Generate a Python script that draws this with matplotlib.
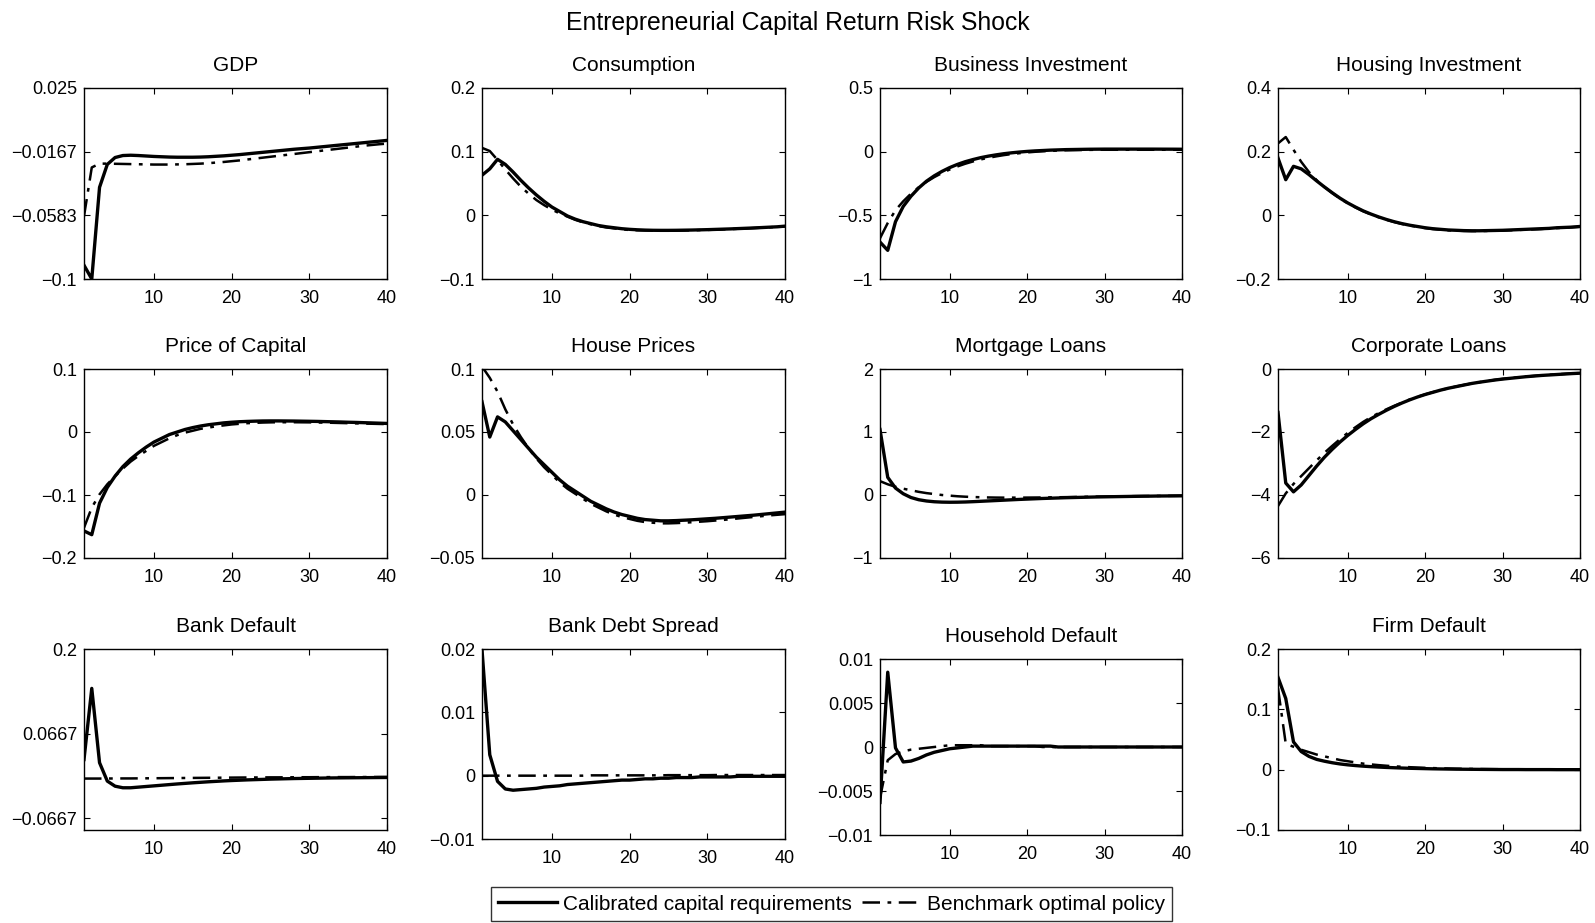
import numpy as np
import matplotlib.pyplot as plt

plt.rcParams['font.family'] = ['Liberation Sans', 'DejaVu Sans']
plt.rcParams['xtick.direction'] = 'in'
plt.rcParams['ytick.direction'] = 'in'

periods = np.arange(1, 41)

# calibrated capital requirements (solid) / benchmark optimal policy (dash-dot)
gdp_cal = [-0.091, -0.100, -0.040, -0.025, -0.0205, -0.0192, -0.0190, -0.0192, -0.0195, -0.0198,
           -0.0200, -0.0202, -0.0203, -0.0203, -0.0203, -0.0202, -0.0200, -0.0197, -0.0194, -0.0190,
           -0.0186, -0.0181, -0.0176, -0.0171, -0.0166, -0.0161, -0.0156, -0.0151, -0.0147, -0.0143,
           -0.0138, -0.0133, -0.0128, -0.0123, -0.0118, -0.0113, -0.0108, -0.0103, -0.0098, -0.0093]
gdp_opt = [-0.059, -0.027, -0.0245, -0.0245, -0.0246, -0.0247, -0.0248, -0.0249, -0.0250, -0.0251,
           -0.0251, -0.0251, -0.0250, -0.0249, -0.0247, -0.0245, -0.0242, -0.0238, -0.0234, -0.0229,
           -0.0224, -0.0218, -0.0212, -0.0206, -0.0200, -0.0194, -0.0188, -0.0182, -0.0176, -0.0170,
           -0.0164, -0.0158, -0.0152, -0.0146, -0.0140, -0.0134, -0.0128, -0.0123, -0.0118, -0.0114]

cons_cal = [0.063, 0.073, 0.088, 0.080, 0.068, 0.055, 0.043, 0.032, 0.022, 0.013,
            0.006, -0.001, -0.006, -0.010, -0.013, -0.016, -0.018, -0.0195, -0.021, -0.022,
            -0.0227, -0.0232, -0.0235, -0.0236, -0.0236, -0.0235, -0.0233, -0.0231, -0.0228, -0.0225,
            -0.0221, -0.0217, -0.0213, -0.0208, -0.0203, -0.0198, -0.0192, -0.0186, -0.0180, -0.0170]
cons_opt = [0.106, 0.101, 0.087, 0.072, 0.058, 0.045, 0.034, 0.024, 0.016, 0.009,
            0.003, -0.002, -0.007, -0.011, -0.014, -0.017, -0.019, -0.0205, -0.022, -0.023,
            -0.0235, -0.0238, -0.0240, -0.0241, -0.0241, -0.0240, -0.0238, -0.0235, -0.0232, -0.0229,
            -0.0225, -0.0221, -0.0216, -0.0211, -0.0206, -0.0200, -0.0194, -0.0188, -0.0181, -0.0173]

binv_cal = [-0.71, -0.775, -0.55, -0.43, -0.35, -0.285, -0.232, -0.19, -0.155, -0.125,
            -0.10, -0.079, -0.062, -0.047, -0.035, -0.025, -0.016, -0.009, -0.003, 0.002,
            0.006, 0.009, 0.012, 0.014, 0.016, 0.017, 0.018, 0.019, 0.0195, 0.020,
            0.020, 0.020, 0.020, 0.020, 0.020, 0.020, 0.0198, 0.0196, 0.0194, 0.019]
binv_opt = [-0.68, -0.56, -0.46, -0.39, -0.33, -0.28, -0.237, -0.20, -0.168, -0.14,
            -0.116, -0.095, -0.077, -0.061, -0.048, -0.037, -0.027, -0.019, -0.012, -0.006,
            -0.001, 0.003, 0.006, 0.009, 0.011, 0.012, 0.013, 0.014, 0.015, 0.015,
            0.015, 0.015, 0.015, 0.015, 0.015, 0.015, 0.015, 0.015, 0.015, 0.015]

hinv_cal = [0.18, 0.112, 0.154, 0.146, 0.128, 0.108, 0.089, 0.071, 0.054, 0.039,
            0.026, 0.014, 0.004, -0.005, -0.013, -0.020, -0.026, -0.031, -0.035, -0.039,
            -0.042, -0.044, -0.046, -0.047, -0.048, -0.0485, -0.0485, -0.048, -0.0475, -0.047,
            -0.046, -0.045, -0.044, -0.043, -0.042, -0.041, -0.039, -0.038, -0.037, -0.035]
hinv_opt = [0.226, 0.246, 0.206, 0.168, 0.136, 0.110, 0.089, 0.070, 0.053, 0.038,
            0.025, 0.013, 0.003, -0.006, -0.014, -0.021, -0.027, -0.032, -0.036, -0.040,
            -0.043, -0.045, -0.047, -0.048, -0.049, -0.0495, -0.0495, -0.049, -0.0485, -0.048,
            -0.047, -0.046, -0.045, -0.044, -0.043, -0.041, -0.040, -0.039, -0.037, -0.036]

pk_cal = [-0.157, -0.163, -0.113, -0.088, -0.070, -0.055, -0.043, -0.033, -0.024, -0.016,
          -0.010, -0.004, 0.000, 0.004, 0.007, 0.0095, 0.0115, 0.013, 0.0145, 0.0155,
          0.0163, 0.0168, 0.0172, 0.0175, 0.0176, 0.0176, 0.0175, 0.0174, 0.0172, 0.0170,
          0.0168, 0.0165, 0.0162, 0.0159, 0.0155, 0.0152, 0.0148, 0.0144, 0.0140, 0.0136]
pk_opt = [-0.152, -0.120, -0.099, -0.083, -0.070, -0.058, -0.047, -0.038, -0.030, -0.022,
          -0.016, -0.010, -0.005, -0.001, 0.002, 0.005, 0.007, 0.009, 0.0105, 0.012,
          0.013, 0.014, 0.0145, 0.015, 0.0153, 0.0155, 0.0155, 0.0155, 0.0154, 0.0153,
          0.0151, 0.0149, 0.0146, 0.0143, 0.0140, 0.0137, 0.0134, 0.0131, 0.0128, 0.0125]

hp_cal = [0.074, 0.046, 0.062, 0.058, 0.051, 0.044, 0.037, 0.030, 0.024, 0.018,
          0.012, 0.007, 0.003, -0.001, -0.005, -0.008, -0.011, -0.0135, -0.0155, -0.017,
          -0.0185, -0.0195, -0.020, -0.0205, -0.0205, -0.0203, -0.020, -0.0197, -0.0193, -0.0189,
          -0.0185, -0.018, -0.0175, -0.017, -0.0165, -0.016, -0.0154, -0.0148, -0.0142, -0.0136]
hp_opt = [0.102, 0.093, 0.082, 0.068, 0.056, 0.046, 0.037, 0.029, 0.022, 0.016,
          0.010, 0.005, 0.001, -0.003, -0.007, -0.010, -0.013, -0.0155, -0.0175, -0.019,
          -0.0205, -0.0215, -0.022, -0.0225, -0.0225, -0.0223, -0.022, -0.0216, -0.0212, -0.0208,
          -0.0203, -0.0198, -0.0192, -0.0186, -0.018, -0.0174, -0.0168, -0.0162, -0.0157, -0.0152]

mort_cal = [1.04, 0.28, 0.11, 0.02, -0.04, -0.075, -0.095, -0.107, -0.113, -0.115,
            -0.114, -0.111, -0.106, -0.100, -0.094, -0.088, -0.082, -0.076, -0.070, -0.065,
            -0.060, -0.055, -0.051, -0.047, -0.043, -0.040, -0.037, -0.034, -0.031, -0.029,
            -0.027, -0.025, -0.023, -0.021, -0.019, -0.018, -0.016, -0.015, -0.014, -0.013]
mort_opt = [0.22, 0.17, 0.13, 0.10, 0.075, 0.05, 0.03, 0.015, 0.0, -0.01,
            -0.02, -0.027, -0.032, -0.036, -0.039, -0.041, -0.042, -0.042, -0.042, -0.041,
            -0.040, -0.039, -0.037, -0.036, -0.034, -0.032, -0.030, -0.028, -0.026, -0.025,
            -0.023, -0.021, -0.020, -0.018, -0.017, -0.016, -0.015, -0.014, -0.013, -0.012]

corp_cal = [-1.38, -3.62, -3.90, -3.68, -3.38, -3.08, -2.80, -2.55, -2.32, -2.11,
            -1.92, -1.74, -1.58, -1.44, -1.31, -1.19, -1.08, -0.98, -0.89, -0.81,
            -0.74, -0.67, -0.61, -0.56, -0.51, -0.46, -0.42, -0.385, -0.35, -0.32,
            -0.295, -0.27, -0.245, -0.225, -0.205, -0.19, -0.175, -0.16, -0.145, -0.133]
corp_opt = [-4.35, -3.95, -3.65, -3.40, -3.15, -2.90, -2.66, -2.44, -2.23, -2.03,
            -1.85, -1.68, -1.53, -1.40, -1.28, -1.17, -1.07, -0.97, -0.885, -0.805,
            -0.735, -0.67, -0.61, -0.555, -0.505, -0.46, -0.42, -0.38, -0.345, -0.315,
            -0.29, -0.265, -0.24, -0.22, -0.20, -0.185, -0.17, -0.155, -0.14, -0.13]

bdef_cal = [0.026, 0.138, 0.021, -0.008, -0.016, -0.0185, -0.0185, -0.0175, -0.0165, -0.0155,
            -0.0145, -0.0135, -0.0125, -0.0116, -0.0107, -0.0099, -0.0091, -0.0084, -0.0077, -0.0071,
            -0.0066, -0.0061, -0.0057, -0.0053, -0.0049, -0.0046, -0.0043, -0.0040, -0.0038, -0.0036,
            -0.0034, -0.0032, -0.0030, -0.0029, -0.0028, -0.0027, -0.0026, -0.0025, -0.0024, -0.0023]
bdef_opt = [-0.0040, -0.0040, -0.0040, -0.0039, -0.0039, -0.0038, -0.0038, -0.0037, -0.0036, -0.0035,
            -0.0034, -0.0033, -0.0032, -0.0031, -0.0030, -0.0029, -0.0028, -0.0027, -0.0026, -0.0025,
            -0.0024, -0.0023, -0.0023, -0.0022, -0.0021, -0.0021, -0.0020, -0.0020, -0.0019, -0.0019,
            -0.0018, -0.0018, -0.0017, -0.0017, -0.0017, -0.0016, -0.0016, -0.0016, -0.0015, -0.0015]

spread_cal = [0.0199, 0.0033, -0.0009, -0.0021, -0.0023, -0.0022, -0.0021, -0.0020, -0.0018, -0.0017,
              -0.0016, -0.0014, -0.0013, -0.0012, -0.0011, -0.0010, -0.0009, -0.0008, -0.0007, -0.0007,
              -0.0006, -0.0005, -0.0005, -0.0004, -0.0004, -0.0003, -0.0003, -0.0003, -0.0002, -0.0002,
              -0.0002, -0.0002, -0.0002, -0.0001, -0.0001, -0.0001, -0.0001, -0.0001, -0.0001, -0.0001]
spread_opt = [0.0000, 0.0000, 0.0000, 0.0000, 0.0000, 0.0000, 0.0000, 0.0000, 0.0000, 0.0000,
              0.0000, 0.0000, 0.0000, 0.0000, 0.00005, 0.00005, 0.00005, 0.00005, 0.00005, 0.00005,
              0.00005, 0.00005, 0.00005, 0.00005, 0.00008, 0.00008, 0.00008, 0.00008, 0.00008, 0.00008,
              0.0001, 0.0001, 0.0001, 0.0001, 0.0001, 0.0001, 0.0001, 0.0001, 0.0001, 0.0001]

hdef_cal = [-0.0063, 0.0085, -0.0001, -0.0017, -0.0016, -0.0013, -0.0009, -0.0006, -0.0004, -0.0002,
            -0.0001, 0.0000, 0.0001, 0.0001, 0.0001, 0.0001, 0.0001, 0.0001, 0.0001, 0.0001,
            0.0001, 0.0001, 0.0001, 0.0000, 0.0000, 0.0000, 0.0000, 0.0000, 0.0000, 0.0000,
            0.0000, 0.0000, 0.0000, 0.0000, 0.0000, 0.0000, 0.0000, 0.0000, 0.0000, 0.0000]
hdef_opt = [-0.0058, -0.0015, -0.0008, -0.0005, -0.0003, -0.0002, -0.0001, 0.0000, 0.0001, 0.0002,
            0.0002, 0.0002, 0.0002, 0.0002, 0.0001, 0.0001, 0.0001, 0.0001, 0.0001, 0.0001,
            0.0001, 0.0000, 0.0000, 0.0000, 0.0000, 0.0000, 0.0000, 0.0000, 0.0000, 0.0000,
            0.0000, 0.0000, 0.0000, 0.0000, 0.0000, 0.0000, 0.0000, 0.0000, 0.0000, 0.0000]

fdef_cal = [0.153, 0.118, 0.046, 0.030, 0.022, 0.017, 0.014, 0.0115, 0.0095, 0.008,
            0.0068, 0.0058, 0.005, 0.0043, 0.0037, 0.0032, 0.0027, 0.0023, 0.002, 0.0017,
            0.0014, 0.0012, 0.001, 0.0008, 0.0007, 0.0006, 0.0005, 0.0004, 0.0003, 0.0002,
            0.0002, 0.0002, 0.0001, 0.0001, 0.0001, 0.0001, 0.0000, 0.0000, 0.0000, 0.0000]
fdef_opt = [0.135, 0.043, 0.038, 0.033, 0.029, 0.025, 0.022, 0.019, 0.016, 0.014,
            0.012, 0.010, 0.0087, 0.0075, 0.0065, 0.0056, 0.0048, 0.0041, 0.0035, 0.003,
            0.0026, 0.0022, 0.0019, 0.0016, 0.0014, 0.0012, 0.001, 0.0009, 0.0008, 0.0007,
            0.0006, 0.0005, 0.0005, 0.0004, 0.0004, 0.0003, 0.0003, 0.0002, 0.0002, 0.0002]

titles = ["GDP", "Consumption", "Business Investment", "Housing Investment",
          "Price of Capital", "House Prices", "Mortgage Loans", "Corporate Loans",
          "Bank Default", "Bank Debt Spread", "Household Default", "Firm Default"]
cal_series = [gdp_cal, cons_cal, binv_cal, hinv_cal, pk_cal, hp_cal, mort_cal, corp_cal,
              bdef_cal, spread_cal, hdef_cal, fdef_cal]
opt_series = [gdp_opt, cons_opt, binv_opt, hinv_opt, pk_opt, hp_opt, mort_opt, corp_opt,
              bdef_opt, spread_opt, hdef_opt, fdef_opt]
ylims = [(-0.1, 0.025), (-0.1, 0.2), (-1, 0.5), (-0.2, 0.4),
         (-0.2, 0.1), (-0.05, 0.1), (-1, 2), (-6, 0),
         (-0.085, 0.2), (-0.01, 0.02), (-0.01, 0.01), (-0.1, 0.2)]
ytick_vals = [[-0.1, -0.0583, -0.0167, 0.025], [-0.1, 0, 0.1, 0.2], [-1, -0.5, 0, 0.5], [-0.2, 0, 0.2, 0.4],
              [-0.2, -0.1, 0, 0.1], [-0.05, 0, 0.05, 0.1], [-1, 0, 1, 2], [-6, -4, -2, 0],
              [-0.0667, 0.0667, 0.2], [-0.01, 0, 0.01, 0.02], [-0.01, -0.005, 0, 0.005, 0.01], [-0.1, 0, 0.1, 0.2]]
ytick_labels = [["−0.1", "−0.0583", "−0.0167", "0.025"], ["−0.1", "0", "0.1", "0.2"],
                ["−1", "−0.5", "0", "0.5"], ["−0.2", "0", "0.2", "0.4"],
                ["−0.2", "−0.1", "0", "0.1"], ["−0.05", "0", "0.05", "0.1"],
                ["−1", "0", "1", "2"], ["−6", "−4", "−2", "0"],
                ["−0.0667", "0.0667", "0.2"], ["−0.01", "0", "0.01", "0.02"],
                ["−0.01", "−0.005", "0", "0.005", "0.01"], ["−0.1", "0", "0.1", "0.2"]]

# axes boxes in pixels: left, right, top, bottom
W, H = 1595, 923
col_x = [(84, 387), (482, 785), (880, 1182), (1278, 1580)]
row_y = [[(88, 279)] * 4,
         [(369, 558)] * 4,
         [(649, 830), (649, 839), (659, 835), (649, 830)]]

fig = plt.figure(figsize=(W / 100, H / 100), dpi=100)
fig.text(0.5, 1 - 23 / H, "Entrepreneurial Capital Return Risk Shock", ha='center', va='center', fontsize=17.8)

for i in range(12):
    r, c = divmod(i, 4)
    x0, x1 = col_x[c]
    y0, y1 = row_y[r][c]
    ax = fig.add_axes([x0 / W, 1 - y1 / H, (x1 - x0) / W, (y1 - y0) / H])
    l1, = ax.plot(periods, cal_series[i], color='black', linewidth=2.4, linestyle='-',
                  label="Calibrated capital requirements")
    l2, = ax.plot(periods, opt_series[i], color='black', linewidth=1.8, linestyle=(0, (7, 3, 1.5, 3)),
                  label="Benchmark optimal policy")
    ax.set_xlim(1, 40)
    ax.set_ylim(*ylims[i])
    ax.set_xticks([10, 20, 30, 40])
    ax.set_yticks(ytick_vals[i])
    ax.set_yticklabels(ytick_labels[i])
    ax.tick_params(labelsize=13, top=True, right=True, length=4, width=0.8)
    ax.tick_params(axis='x', pad=8)
    ax.tick_params(axis='y', pad=5)
    ax.set_title(titles[i], fontsize=15, pad=12)
    for s in ax.spines.values():
        s.set_linewidth(1.0)

fig.legend(handles=[l1, l2], loc='center', bbox_to_anchor=((493 + 1170) / 2 / W, 1 - 904 / H),
           ncol=2, frameon=True, fancybox=False, edgecolor='black', fontsize=15,
           handlelength=2.8, handletextpad=0.3, columnspacing=0.5, borderpad=0.35)

fig.savefig("out.png", dpi=100)
